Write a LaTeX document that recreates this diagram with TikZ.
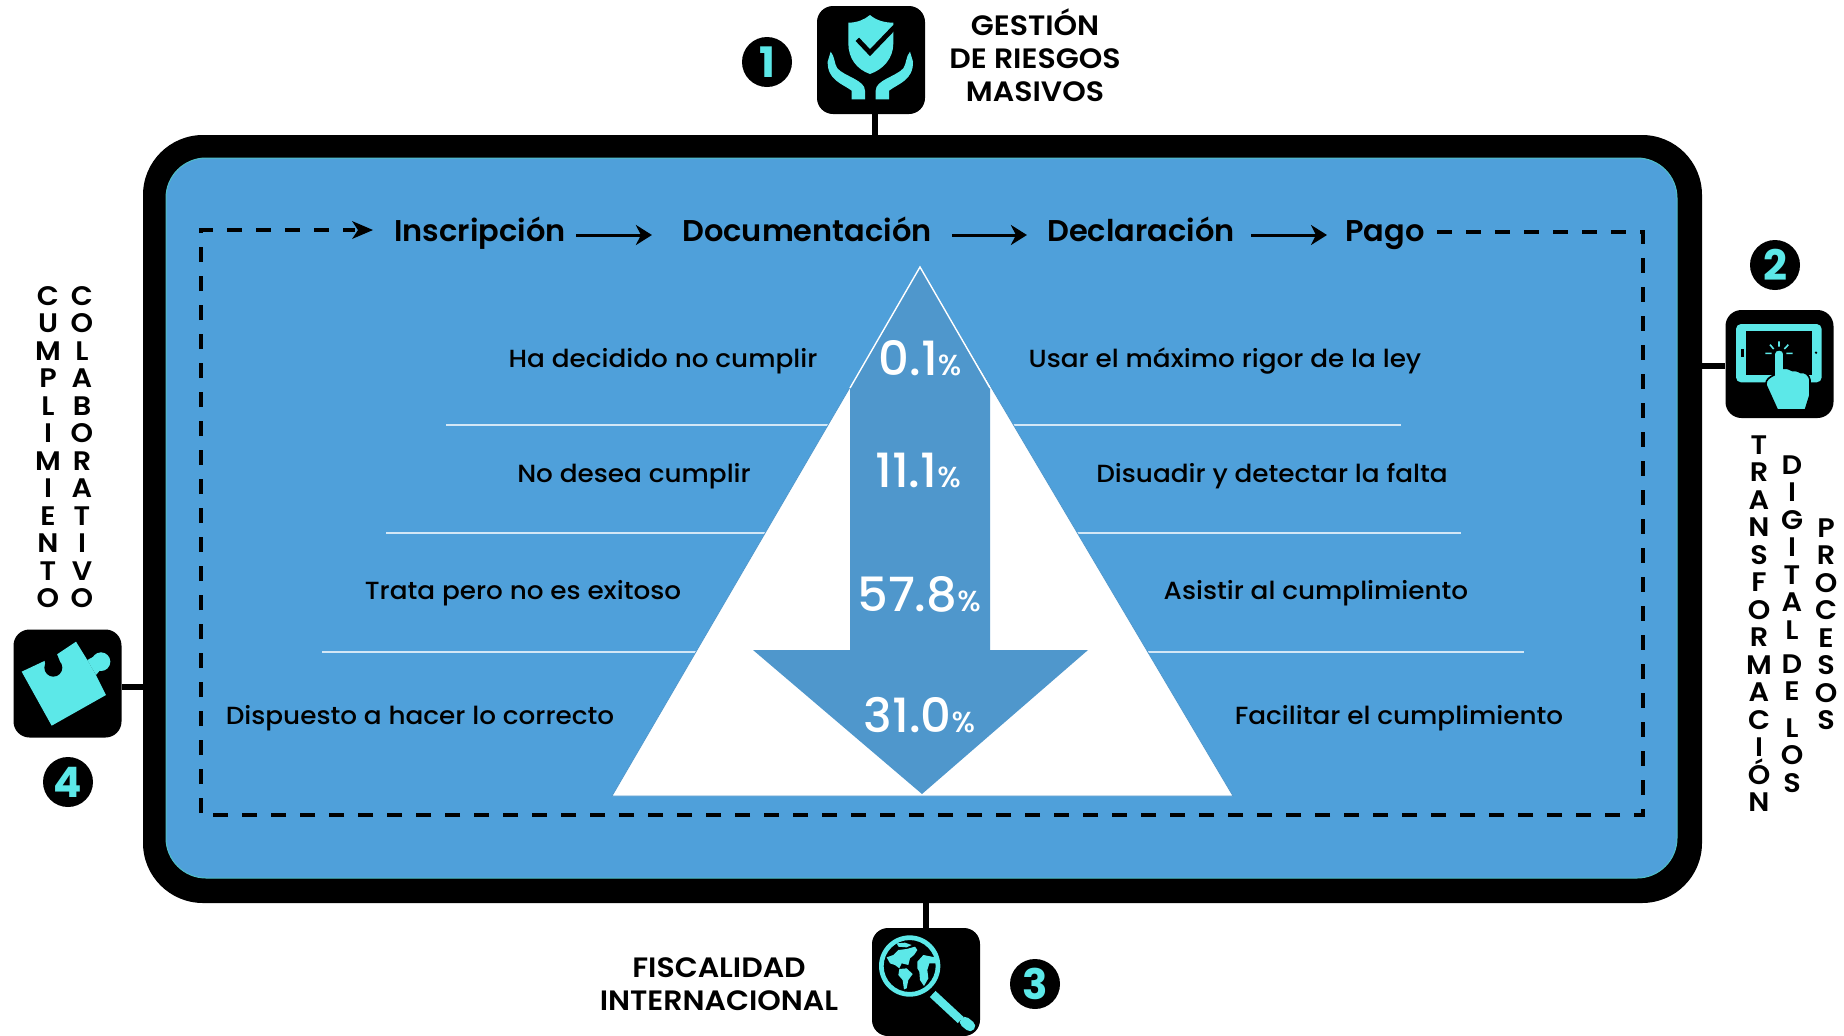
\documentclass[tikz,border=0pt]{standalone}
\usepackage{fontspec}
\usetikzlibrary{arrows.meta}
\setmainfont{Poppins}
\newfontfamily\medf{Poppins Medium}[FakeStretch=1.06]
\newfontfamily\pctf{Poppins Medium}[FakeStretch=1.02]
\newfontfamily\semif{Poppins SemiBold}[FakeStretch=1.015]
\newfontfamily\headf{Poppins SemiBold}[FakeStretch=1.07]
\newfontfamily\boldf{Poppins Bold}
\definecolor{bgblue}{HTML}{4FA0DA}
\definecolor{arrowblue}{HTML}{4F97CC}
\definecolor{cy}{HTML}{5CE8E8}
\definecolor{rim}{HTML}{4FBFC8}
\newcommand{\pctlabel}[1]{{\pctf\fontsize{23.6}{24}\selectfont #1}{\pctf\fontsize{14.5}{14.5}\selectfont\%}}
\tikzset{
  iconbox/.style={fill=black,rounded corners=8pt,minimum width=54pt,minimum height=54pt,inner sep=0pt},
  numdot/.style={circle,fill=black,minimum size=25pt,inner sep=0pt,text=cy,font=\boldf\fontsize{21}{21}\selectfont},
  headlabel/.style={anchor=base,inner sep=0pt,font=\headf\fontsize{14}{16.5}\selectfont,align=center},
  vertlabel/.style={anchor=north,inner sep=0pt,font=\headf\fontsize{13.4}{13.75}\selectfont,align=center},
  steplabel/.style={anchor=base,inner sep=0pt,text height=11pt,text depth=3pt,font=\semif\fontsize{15}{15}\selectfont},
  bodylabel/.style={anchor=base,inner sep=0pt,font=\medf\fontsize{12.4}{12.4}\selectfont},
  pctnode/.style={anchor=base,inner sep=0pt,text=white},
  flow/.style={-{Stealth[length=8pt,width=10pt,inset=2.5pt]},line width=1.5pt},
  link/.style={line width=3pt},
  dashline/.style={line width=1.6pt,dash pattern=on 7.5pt off 7pt},
  sepline/.style={white!75!bgblue,line width=.6pt}
}
\begin{document}
\begin{tikzpicture}[x=.5pt,y=-.5pt]
\useasboundingbox (0,0) rectangle (1844,1035);
% frame
\node[fill=black,rounded corners=30pt,minimum width=779.5pt,minimum height=384pt,inner sep=0pt] (frame) at (922.5,519) {};
\node[fill=bgblue,draw=rim,line width=.5pt,rounded corners=20pt,minimum width=755.5pt,minimum height=360pt,inner sep=0pt] (panel) at (921.5,518) {};
% icon boxes
\node[iconbox] (icon1) at (871,60) {};
\node[iconbox] (icon2) at (1779.5,364) {};
\node[iconbox] (icon3) at (926,982) {};
\node[iconbox] (icon4) at (67.5,683.5) {};
\draw[link] (icon1.south -| 875,0) -- (875,135);
\draw[link] (icon2.west |- 0,366) -- (1702,366);
\draw[link] (icon3.north) -- (icon3.north |- frame.south);
\draw[link] (icon4.east |- 0,687) -- (143,687);
% numbers
\node[numdot] (n1) at (767,62) {1};
\node[numdot] (n2) at (1775,265) {2};
\node[numdot] (n3) at (1035,984) {3};
\node[numdot] (n4) at (68,782) {4};
% icon 1
\begin{scope}[shift={(720,0)},x=.16667pt,y=-.16667pt]
\fill[cy] (450,45) .. controls (470,62) and (495,68) .. (520,68) -- (520,130) .. controls (520,175) and (490,208) .. (450,222) .. controls (410,208) and (385,175) .. (385,130) -- (385,68) .. controls (410,68) and (432,60) .. (450,45) -- cycle;
\draw[black,line width=2.4pt] (412,118) -- (450,158) -- (525,80);
\fill[cy] (332,155) .. controls (345,170) and (342,190) .. (352,205) .. controls (375,230) and (435,240) .. (435,272) -- (435,298) -- (395,298) -- (395,272) .. controls (365,250) and (322,240) .. (323,185) -- cycle;
\fill[cy] (570,155) .. controls (557,170) and (560,190) .. (550,205) .. controls (527,230) and (467,240) .. (467,272) -- (467,298) -- (507,298) -- (507,272) .. controls (537,250) and (580,240) .. (579,185) -- cycle;
\end{scope}
% icon 2
\begin{scope}[shift={(1700,220)},x=.16667pt,y=-.16667pt]
\fill[cy,rounded corners=2.5pt] (108,312) rectangle (365,487);
\fill[black] (137,333) rectangle (337,465);
\fill[black] (123,386) rectangle (131,410);
\fill[black] (348,398) circle[radius=4];
\draw[cy,line width=.8pt] (237,364) -- (237,380) (210,374) -- (221,387) (265,374) -- (253,387) (196,400) -- (215,400) (259,400) -- (278,400);
\fill[cy,draw=black,line width=.8pt] (222,465) -- (222,402) .. controls (222,385) and (252,385) .. (252,402) -- (252,445) .. controls (265,443) and (272,450) .. (278,452) .. controls (290,450) and (298,455) .. (303,458) .. controls (315,455) and (328,465) .. (330,480) -- (330,525) -- (316,570) -- (232,570) -- (198,495) .. controls (195,478) and (212,470) .. (222,465) -- cycle;
\end{scope}
% icon 3
\begin{scope}[shift={(840,900)},x=.16667pt,y=-.16667pt]
\fill[cy,even odd rule] (209,198) circle[radius=92] (209,198) circle[radius=78];
\fill[cy] (140,172) -- (160,165) -- (175,150) -- (200,147) -- (225,140) -- (232,150) -- (222,165) -- (210,175) -- (205,195) -- (185,190) -- (178,205) -- (165,195) -- (150,190) -- cycle;
\fill[cy] (170,130) -- (195,128) -- (215,135) -- (200,142) -- (175,140) -- cycle;
\fill[cy] (178,207) -- (200,205) -- (218,222) -- (205,240) -- (200,265) -- (192,268) -- (188,240) -- (175,225) -- cycle;
\fill[cy] (232,185) -- (250,165) -- (285,172) -- (290,190) -- (268,190) -- (262,210) -- (265,235) -- (252,258) -- (240,240) -- (238,215) -- (232,205) -- cycle;
\draw[cy,line width=4.2pt] (278,282) -- (362,360);
\draw[cy,line width=5.2pt,line cap=round] (375,366) -- (390,378);
\end{scope}
% icon 4
\begin{scope}[shift={(0,600)},x=.16667pt,y=-.16667pt]
\fill[cy] (65,215) -- (133,183) -- (168,165) -- (228,125) -- (262,180) -- (288,225) -- (318,285) -- (155,377) -- cycle;
\fill[cy] (262,180) -- (290,165) -- (305,205) -- (288,225) -- cycle;
\fill[cy] (303,185) circle[radius=28];
\fill[black] (133,180) -- (170,160) -- (180,185) -- (140,205) -- cycle;
\fill[black] (160,203) circle[radius=27];
\end{scope}
% headings
\node[headlabel] (h1) at (1035,101) {GESTIÓN\\DE RIESGOS\\MASIVOS};
\node[headlabel] (h3) at (719,1010) {FISCALIDAD\\INTERNACIONAL};
\node[vertlabel] (v1) at (48,286) {C\\U\\M\\P\\L\\I\\M\\I\\E\\N\\T\\O};
\node[vertlabel] (v2) at (82,286) {C\\O\\L\\A\\B\\O\\R\\A\\T\\I\\V\\O};
\node[vertlabel] (v3) at (1759,435) {T\\R\\A\\N\\S\\F\\O\\R\\M\\A\\C\\I\\Ó\\N};
\node[vertlabel] (v4) at (1792,455) {D\\I\\G\\I\\T\\A\\L\\[3.3pt]D\\E\\[4.5pt]L\\O\\S};
\node[vertlabel] (v5) at (1826,518) {P\\R\\O\\C\\E\\S\\O\\S};
% separators
\draw[sepline] (446,425) -- (1401,425);
\draw[sepline] (386,533) -- (1461,533);
\draw[sepline] (322,652) -- (1524,652);
% pyramid
\coordinate (apex) at (920,267);
\coordinate (bl) at (612,796);
\coordinate (br) at (1233,796);
\fill[white,draw=arrowblue,line width=.4pt] (apex) -- (bl) -- (br) -- cycle;
\fill[arrowblue] (apex) -- (850,388) -- (850,650) -- (753,650) -- (922,794) -- (1088,650) -- (990,650) -- (990,388) -- cycle;
\draw[white,line width=.7pt] (850,388) -- (apex) -- (990,388);
\node[pctnode] (p1) at (920,375) {\pctlabel{0.1}};
\node[pctnode] (p2) at (918,487) {\pctlabel{11.1}};
\node[pctnode] (p3) at (919,611) {\pctlabel{57.8}};
\node[pctnode] (p4) at (919.5,732) {\pctlabel{31.0}};
% steps
\node[steplabel] (ins) at (480,241) {Inscripción};
\node[steplabel] (doc) at (807,241) {Documentación};
\node[steplabel] (dec) at (1141,241) {Declaración};
\node[steplabel] (pag) at (1385,241) {Pago};
\draw[flow,shorten <=5pt,shorten >=15pt] ([yshift=-1pt]ins.east) -- ([yshift=-1pt]doc.west);
\draw[flow,shorten <=10pt,shorten >=10pt] ([yshift=-1pt]doc.east) -- ([yshift=-1pt]dec.west);
\draw[flow,shorten <=8pt,shorten >=9pt] ([yshift=-1pt]dec.east) -- ([yshift=-1pt]pag.west);
\coordinate (dashstart) at (1437,232);
\coordinate (dashend) at (373,230);
\draw[dashline] (dashstart) -- (1643,232) -- (1643,815) -- (201,815) -- (201,230) -- (355,230);
\fill[black] (dashend) -- (352,221) -- (358,230) -- (352,239) -- cycle;
% body
\node[bodylabel] (l1) at (663,367) {Ha decidido no cumplir};
\node[bodylabel] (l2) at (634,482) {No desea cumplir};
\node[bodylabel] (l3) at (523,599) {Trata pero no es exitoso};
\node[bodylabel] (l4) at (420,724) {Dispuesto a hacer lo correcto};
\node[bodylabel] (r1) at (1225,367) {Usar el máximo rigor de la ley};
\node[bodylabel] (r2) at (1272,482) {Disuadir y detectar la falta};
\node[bodylabel] (r3) at (1316,599) {Asistir al cumplimiento};
\node[bodylabel] (r4) at (1399,724) {Facilitar el cumplimiento};
\end{tikzpicture}
\end{document}
